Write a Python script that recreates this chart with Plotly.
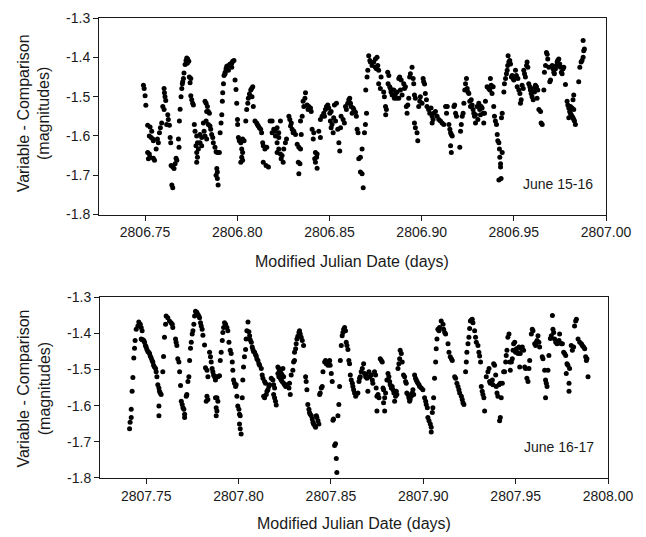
import plotly.graph_objects as go

# Differential photometry (variable minus comparison star), two nights.
# Times are stored as the fractional part of the Modified Julian Date.
MJD_NIGHT1 = 2806.0
MJD_NIGHT2 = 2807.0

night1_frac = [
    .7491, .7495, .7500, .7504, .7514, .7527, .7536, .7523, .7533, .7542,
    .7545, .7514, .7523, .7527, .7518, .7545, .7551, .7560, .7567, .7572,
    .7578, .7583, .7590, .7603, .7605, .7608, .7612, .7596, .7603, .7623,
    .7626, .7632, .7617, .7636, .7639, .7641, .7650, .7657, .7645, .7650,
    .7668, .7672, .7663, .7681, .7684, .7686, .7690, .7695, .7699, .7702,
    .7704, .7708, .7711, .7717, .7722, .7726, .7731, .7737, .7729, .7740,
    .7744, .7748, .7748, .7753, .7758, .7762, .7767, .7771, .7780, .7784,
    .7776, .7789, .7780, .7784, .7780, .7798, .7807, .7798, .7807, .7825,
    .7831, .7838, .7834, .7843, .7849, .7816, .7831, .7843, .7852, .7820,
    .7825, .7834, .7856, .7861, .7867, .7870, .7879, .7885, .7892, .7903,
    .7889, .7892, .7885, .7892, .7896, .7907, .7912, .7916, .7919, .7921,
    .7925, .7928, .7934, .7939, .7943, .7952, .7961, .7970, .7975, .7982,
    .7970, .7952, .7934, .7988, .7993, .7997, .8001, .8002, .8006, .8011,
    .8019, .8029, .8037, .8024, .8029, .8024, .8029, .8019, .8046, .8051,
    .8057, .8060, .8066, .8073, .8078, .8084, .8080, .8087, .8096, .8105,
    .8109, .8114, .8120, .8127, .8132, .8138, .8141, .8150, .8160, .8141,
    .8156, .8169, .8178, .8189, .8198, .8189, .8207, .8216, .8225, .8207,
    .8216, .8225, .8234, .8225, .8216, .8234, .8243, .8252, .8249, .8238,
    .8261, .8267, .8280, .8285, .8289, .8298, .8303, .8293, .8307, .8316,
    .8325, .8334, .8343, .8331, .8340, .8334, .8347, .8343, .8352, .8361,
    .8357, .8367, .8370, .8379, .8388, .8397, .8401, .8384, .8406, .8415,
    .8412, .8424, .8433, .8430, .8420, .8424, .8433, .8442, .8451, .8451,
    .8460, .8469, .8473, .8478, .8484, .8491, .8496, .8502, .8509, .8505,
    .8514, .8509, .8520, .8523, .8533, .8527, .8538, .8551, .8556, .8545,
    .8560, .8563, .8574, .8581, .8587, .8592, .8599, .8605, .8610, .8614,
    .8617, .8623, .8628, .8632, .8641, .8646, .8650, .8655, .8659, .8668,
    .8677, .8668, .8677, .8683, .8690, .8695, .8701, .8697, .8704, .8708,
    .8713, .8719, .8722, .8731, .8740, .8749, .8755, .8762, .8758, .8749,
    .8767, .8767, .8780, .8776, .8794, .8798, .8804, .8809, .8805, .8816,
    .8822, .8818, .8827, .8831, .8834, .8840, .8849, .8852, .8858, .8863,
    .8867, .8876, .8876, .8881, .8889, .8885, .8894, .8903, .8907, .8912,
    .8917, .8921, .8925, .8930, .8935, .8939, .8948, .8954, .8957, .8961,
    .8966, .8961, .8966, .8975, .8979, .8984, .8990, .8993, .9002, .9008,
    .9011, .9016, .9020, .9026, .9029, .9038, .9044, .9051, .9057, .9066,
    .9075, .9062, .9057, .9084, .9093, .9102, .9111, .9120, .9130, .9139,
    .9135, .9148, .9153, .9157, .9161, .9166, .9157, .9161, .9175, .9179,
    .9184, .9189, .9207, .9211, .9215, .9220, .9225, .9229, .9234, .9238,
    .9243, .9247, .9251, .9256, .9261, .9265, .9269, .9274, .9279, .9283,
    .9287, .9292, .9292, .9301, .9305, .9310, .9315, .9319, .9323, .9328,
    .9334, .9337, .9341, .9346, .9355, .9364, .9370, .9373, .9377, .9382,
    .9388, .9391, .9395, .9400, .9406, .9410, .9413, .9419, .9422, .9424,
    .9428, .9431, .9419, .9428, .9437, .9433, .9437, .9446, .9449, .9455,
    .9460, .9464, .9467, .9473, .9469, .9478, .9482, .9487, .9491, .9496,
    .9500, .9509, .9514, .9522, .9518, .9527, .9533, .9536, .9540, .9545,
    .9551, .9554, .9558, .9563, .9569, .9572, .9576, .9581, .9587, .9590,
    .9594, .9599, .9605, .9608, .9612, .9617, .9623, .9626, .9630, .9636,
    .9645, .9648, .9654, .9663, .9666, .9672, .9677, .9681, .9684, .9690,
    .9695, .9699, .9708, .9713, .9717, .9720, .9726, .9731, .9735, .9738,
    .9744, .9749, .9753, .9758, .9762, .9767, .9771, .9780, .9789, .9793,
    .9798, .9803, .9807, .9811, .9816, .9821, .9825, .9829, .9834, .9807,
    .9816, .9798, .9825, .9825, .9821, .9852, .9858, .9865, .9870, .9876,
    .9879, .9883, .9876,
]
night1_mag = [
    -1.471, -1.479, -1.498, -1.522, -1.573, -1.577, -1.588, -1.600, -1.604, -1.608,
    -1.612, -1.642, -1.646, -1.654, -1.658, -1.657, -1.662, -1.633, -1.608, -1.617,
    -1.592, -1.579, -1.567, -1.479, -1.490, -1.500, -1.510, -1.525, -1.533, -1.546,
    -1.558, -1.573, -1.571, -1.604, -1.617, -1.675, -1.679, -1.683, -1.725, -1.732,
    -1.657, -1.662, -1.671, -1.608, -1.629, -1.562, -1.532, -1.500, -1.479, -1.467,
    -1.462, -1.454, -1.440, -1.418, -1.408, -1.402, -1.404, -1.410, -1.415, -1.450,
    -1.465, -1.454, -1.498, -1.508, -1.517, -1.521, -1.571, -1.588, -1.600, -1.617,
    -1.625, -1.633, -1.642, -1.654, -1.667, -1.596, -1.604, -1.617, -1.625, -1.512,
    -1.517, -1.525, -1.538, -1.538, -1.542, -1.567, -1.562, -1.571, -1.575, -1.588,
    -1.600, -1.608, -1.583, -1.596, -1.604, -1.617, -1.629, -1.640, -1.642, -1.642,
    -1.683, -1.692, -1.700, -1.708, -1.725, -1.592, -1.567, -1.546, -1.512, -1.490,
    -1.467, -1.446, -1.438, -1.429, -1.423, -1.421, -1.417, -1.415, -1.410, -1.408,
    -1.425, -1.433, -1.442, -1.458, -1.482, -1.517, -1.558, -1.571, -1.604, -1.612,
    -1.617, -1.608, -1.612, -1.633, -1.642, -1.654, -1.662, -1.667, -1.562, -1.533,
    -1.517, -1.504, -1.493, -1.483, -1.479, -1.475, -1.500, -1.525, -1.562, -1.567,
    -1.571, -1.575, -1.579, -1.583, -1.592, -1.617, -1.625, -1.633, -1.629, -1.667,
    -1.675, -1.679, -1.562, -1.562, -1.583, -1.592, -1.588, -1.579, -1.592, -1.600,
    -1.617, -1.604, -1.562, -1.633, -1.642, -1.646, -1.650, -1.633, -1.667, -1.658,
    -1.617, -1.608, -1.550, -1.558, -1.575, -1.583, -1.592, -1.567, -1.588, -1.596,
    -1.621, -1.629, -1.633, -1.667, -1.671, -1.696, -1.596, -1.562, -1.550, -1.525,
    -1.512, -1.504, -1.490, -1.521, -1.525, -1.529, -1.538, -1.533, -1.583, -1.592,
    -1.608, -1.642, -1.646, -1.654, -1.658, -1.667, -1.682, -1.588, -1.604, -1.558,
    -1.550, -1.542, -1.550, -1.533, -1.525, -1.521, -1.529, -1.542, -1.538, -1.562,
    -1.571, -1.579, -1.592, -1.554, -1.562, -1.521, -1.517, -1.617, -1.638, -1.583,
    -1.579, -1.550, -1.558, -1.567, -1.525, -1.533, -1.517, -1.508, -1.504, -1.517,
    -1.525, -1.542, -1.529, -1.533, -1.540, -1.550, -1.583, -1.592, -1.658, -1.654,
    -1.633, -1.692, -1.696, -1.732, -1.592, -1.571, -1.542, -1.483, -1.450, -1.433,
    -1.396, -1.408, -1.412, -1.421, -1.412, -1.425, -1.429, -1.421, -1.400, -1.404,
    -1.433, -1.467, -1.450, -1.479, -1.488, -1.500, -1.525, -1.533, -1.546, -1.438,
    -1.446, -1.467, -1.475, -1.479, -1.488, -1.496, -1.483, -1.504, -1.493, -1.504,
    -1.488, -1.504, -1.454, -1.450, -1.458, -1.483, -1.496, -1.467, -1.479, -1.475,
    -1.525, -1.542, -1.521, -1.504, -1.450, -1.442, -1.425, -1.454, -1.467, -1.496,
    -1.504, -1.567, -1.579, -1.592, -1.612, -1.525, -1.512, -1.500, -1.517, -1.454,
    -1.462, -1.468, -1.492, -1.508, -1.525, -1.533, -1.542, -1.529, -1.550, -1.542,
    -1.538, -1.558, -1.567, -1.550, -1.558, -1.562, -1.567, -1.571, -1.525, -1.525,
    -1.542, -1.571, -1.583, -1.592, -1.596, -1.600, -1.625, -1.642, -1.525, -1.521,
    -1.542, -1.550, -1.629, -1.588, -1.571, -1.550, -1.542, -1.517, -1.483, -1.467,
    -1.454, -1.479, -1.488, -1.492, -1.512, -1.525, -1.508, -1.521, -1.533, -1.542,
    -1.550, -1.567, -1.546, -1.525, -1.558, -1.517, -1.533, -1.546, -1.525, -1.529,
    -1.542, -1.567, -1.542, -1.512, -1.475, -1.479, -1.483, -1.454, -1.471, -1.492,
    -1.475, -1.525, -1.550, -1.562, -1.571, -1.596, -1.612, -1.617, -1.633, -1.654,
    -1.671, -1.708, -1.712, -1.679, -1.642, -1.554, -1.542, -1.488, -1.467, -1.454,
    -1.442, -1.433, -1.421, -1.412, -1.396, -1.408, -1.417, -1.450, -1.446, -1.454,
    -1.458, -1.433, -1.446, -1.454, -1.475, -1.483, -1.492, -1.517, -1.508, -1.471,
    -1.479, -1.433, -1.442, -1.450, -1.421, -1.412, -1.425, -1.467, -1.475, -1.483,
    -1.492, -1.500, -1.508, -1.479, -1.488, -1.471, -1.475, -1.504, -1.483, -1.533,
    -1.538, -1.567, -1.571, -1.483, -1.438, -1.421, -1.388, -1.392, -1.404, -1.425,
    -1.462, -1.458, -1.421, -1.429, -1.438, -1.442, -1.429, -1.421, -1.412, -1.408,
    -1.404, -1.417, -1.425, -1.438, -1.442, -1.429, -1.425, -1.469, -1.512, -1.521,
    -1.529, -1.538, -1.542, -1.546, -1.550, -1.554, -1.558, -1.562, -1.571, -1.525,
    -1.529, -1.554, -1.533, -1.496, -1.508, -1.462, -1.425, -1.412, -1.408, -1.400,
    -1.383, -1.379, -1.357,
]

night2_frac = [
    .7410, .7413, .7419, .7419, .7424, .7428, .7433, .7437, .7440, .7446,
    .7455, .7460, .7468, .7473, .7478, .7473, .7478, .7482, .7487, .7491,
    .7496, .7500, .7504, .7509, .7514, .7518, .7522, .7527, .7532, .7536,
    .7540, .7545, .7551, .7554, .7558, .7563, .7569, .7572, .7576, .7581,
    .7569, .7569, .7590, .7594, .7599, .7605, .7608, .7617, .7626, .7635,
    .7641, .7644, .7659, .7662, .7666, .7671, .7677, .7681, .7686, .7690,
    .7695, .7699, .7704, .7708, .7708, .7717, .7720, .7726, .7731, .7735,
    .7740, .7744, .7749, .7753, .7758, .7762, .7767, .7771, .7774, .7780,
    .7785, .7789, .7794, .7798, .7803, .7807, .7816, .7821, .7829, .7834,
    .7829, .7834, .7825, .7843, .7848, .7852, .7857, .7861, .7865, .7870,
    .7875, .7879, .7888, .7897, .7875, .7883, .7888, .7879, .7883, .7879,
    .7901, .7906, .7912, .7915, .7919, .7924, .7930, .7937, .7942, .7948,
    .7955, .7960, .7966, .7969, .7973, .7978, .7984, .7987, .7991, .7996,
    .8002, .8005, .8009, .8005, .8009, .8014, .8020, .8023, .8027, .8032,
    .8038, .8041, .8045, .8051, .8056, .8060, .8063, .8069, .8074, .8078,
    .8081, .8087, .8092, .8096, .8099, .8105, .8110, .8114, .8123, .8128,
    .8132, .8141, .8146, .8136, .8141, .8150, .8154, .8159, .8164, .8168,
    .8177, .8186, .8190, .8195, .8190, .8195, .8200, .8204, .8213, .8218,
    .8222, .8226, .8231, .8236, .8240, .8244, .8213, .8218, .8226, .8231,
    .8236, .8244, .8249, .8255, .8262, .8273, .8280, .8276, .8285, .8294,
    .8298, .8303, .8303, .8309, .8312, .8316, .8321, .8327, .8330, .8334,
    .8339, .8345, .8352, .8363, .8366, .8370, .8375, .8381, .8384, .8388,
    .8394, .8399, .8403, .8406, .8412, .8417, .8421, .8424, .8430, .8435,
    .8439, .8442, .8448, .8453, .8457, .8466, .8471, .8475, .8484, .8489,
    .8493, .8496, .8502, .8507, .8511, .8514, .8520, .8525, .8529, .8532,
    .8538, .8543, .8547, .8551, .8556, .8561, .8565, .8569, .8574, .8579,
    .8583, .8587, .8592, .8597, .8601, .8605, .8610, .8616, .8619, .8623,
    .8628, .8634, .8637, .8646, .8652, .8655, .8659, .8664, .8670, .8677,
    .8682, .8688, .8691, .8695, .8700, .8706, .8709, .8718, .8724, .8727,
    .8736, .8742, .8745, .8749, .8755, .8749, .8760, .8767, .8773, .8778,
    .8782, .8785, .8791, .8785, .8791, .8796, .8803, .8809, .8814, .8818,
    .8821, .8827, .8832, .8836, .8841, .8845, .8850, .8854, .8857, .8863,
    .8868, .8872, .8875, .8881, .8886, .8893, .8899, .8904, .8908, .8911,
    .8917, .8922, .8926, .8929, .8935, .8940, .8944, .8948, .8953, .8958,
    .8962, .8966, .8971, .8977, .8980, .8989, .8998, .9007, .9013, .9016,
    .9022, .9025, .9031, .9038, .9043, .9043, .9049, .9052, .9056, .9061,
    .9067, .9070, .9074, .9079, .9085, .9088, .9097, .9107, .9110, .9116,
    .9121, .9134, .9139, .9146, .9152, .9157, .9170, .9175, .9182, .9188,
    .9193, .9197, .9206, .9211, .9215, .9220, .9229, .9233, .9236, .9242,
    .9247, .9251, .9255, .9260, .9265, .9269, .9278, .9283, .9287, .9296,
    .9301, .9305, .9310, .9314, .9319, .9323, .9328, .9332, .9341, .9350,
    .9356, .9359, .9363, .9368, .9374, .9377, .9381, .9386, .9392, .9395,
    .9399, .9404, .9410, .9417, .9422, .9428, .9417, .9413, .9435, .9440,
    .9446, .9449, .9453, .9458, .9464, .9468, .9471, .9477, .9482, .9486,
    .9489, .9495, .9500, .9504, .9507, .9513, .9518, .9522, .9525, .9531,
    .9536, .9543, .9549, .9554, .9561, .9567, .9572, .9576, .9585, .9590,
    .9594, .9603, .9608, .9612, .9616, .9621, .9626, .9630, .9644, .9648,
    .9657, .9662, .9666, .9670, .9662, .9675, .9680, .9688, .9693, .9699,
    .9702, .9706, .9711, .9717, .9724, .9729, .9735, .9738, .9747, .9753,
    .9760, .9765, .9771, .9774, .9778, .9783, .9789, .9789, .9792, .9801,
    .9807, .9814, .9819, .9825, .9829, .9838, .9847, .9856, .9861, .9868,
    .9874, .9879, .9883, .9886, .9892,
]
night2_mag = [
    -1.664, -1.646, -1.633, -1.610, -1.560, -1.522, -1.468, -1.441, -1.420, -1.389,
    -1.380, -1.369, -1.375, -1.384, -1.393, -1.416, -1.418, -1.418, -1.420, -1.425,
    -1.434, -1.438, -1.445, -1.450, -1.452, -1.456, -1.463, -1.468, -1.475, -1.479,
    -1.488, -1.493, -1.497, -1.506, -1.520, -1.542, -1.551, -1.560, -1.565, -1.569,
    -1.601, -1.628, -1.506, -1.464, -1.411, -1.375, -1.352, -1.357, -1.366, -1.371,
    -1.375, -1.384, -1.416, -1.425, -1.434, -1.470, -1.479, -1.506, -1.544, -1.588,
    -1.597, -1.606, -1.610, -1.624, -1.633, -1.574, -1.569, -1.533, -1.520, -1.475,
    -1.441, -1.425, -1.402, -1.393, -1.375, -1.352, -1.339, -1.343, -1.342, -1.348,
    -1.352, -1.357, -1.371, -1.380, -1.389, -1.405, -1.432, -1.495, -1.502, -1.520,
    -1.574, -1.583, -1.588, -1.452, -1.465, -1.479, -1.497, -1.506, -1.515, -1.520,
    -1.529, -1.520, -1.520, -1.517, -1.578, -1.578, -1.588, -1.606, -1.615, -1.628,
    -1.475, -1.452, -1.420, -1.398, -1.384, -1.371, -1.375, -1.384, -1.393, -1.425,
    -1.447, -1.456, -1.479, -1.502, -1.529, -1.538, -1.547, -1.542, -1.574, -1.601,
    -1.610, -1.624, -1.628, -1.651, -1.664, -1.678, -1.578, -1.529, -1.493, -1.465,
    -1.445, -1.416, -1.393, -1.369, -1.396, -1.407, -1.418, -1.425, -1.438, -1.445,
    -1.450, -1.452, -1.459, -1.463, -1.470, -1.475, -1.484, -1.488, -1.497, -1.515,
    -1.524, -1.533, -1.538, -1.574, -1.578, -1.569, -1.560, -1.556, -1.547, -1.542,
    -1.524, -1.529, -1.542, -1.551, -1.569, -1.578, -1.588, -1.598, -1.493, -1.497,
    -1.502, -1.506, -1.511, -1.515, -1.497, -1.520, -1.511, -1.520, -1.524, -1.529,
    -1.533, -1.538, -1.542, -1.547, -1.542, -1.551, -1.569, -1.538, -1.515, -1.502,
    -1.479, -1.475, -1.452, -1.443, -1.429, -1.416, -1.408, -1.398, -1.393, -1.402,
    -1.411, -1.420, -1.434, -1.520, -1.533, -1.556, -1.597, -1.610, -1.619, -1.624,
    -1.628, -1.637, -1.646, -1.651, -1.655, -1.660, -1.628, -1.633, -1.642, -1.651,
    -1.569, -1.565, -1.551, -1.547, -1.506, -1.479, -1.475, -1.484, -1.488, -1.479,
    -1.475, -1.488, -1.511, -1.533, -1.640, -1.637, -1.710, -1.705, -1.746, -1.785,
    -1.628, -1.597, -1.547, -1.475, -1.434, -1.407, -1.398, -1.389, -1.384, -1.393,
    -1.425, -1.434, -1.445, -1.475, -1.484, -1.515, -1.529, -1.538, -1.547, -1.556,
    -1.565, -1.574, -1.569, -1.565, -1.533, -1.524, -1.520, -1.506, -1.497, -1.484,
    -1.511, -1.520, -1.515, -1.524, -1.560, -1.506, -1.520, -1.515, -1.529, -1.538,
    -1.506, -1.515, -1.551, -1.574, -1.569, -1.615, -1.578, -1.470, -1.475, -1.479,
    -1.551, -1.556, -1.578, -1.592, -1.615, -1.565, -1.529, -1.511, -1.520, -1.533,
    -1.542, -1.551, -1.547, -1.556, -1.565, -1.588, -1.574, -1.560, -1.569, -1.497,
    -1.484, -1.470, -1.447, -1.456, -1.479, -1.515, -1.520, -1.533, -1.538, -1.565,
    -1.569, -1.578, -1.588, -1.583, -1.574, -1.565, -1.556, -1.569, -1.515, -1.524,
    -1.529, -1.533, -1.538, -1.542, -1.547, -1.551, -1.556, -1.578, -1.588, -1.597,
    -1.606, -1.633, -1.642, -1.651, -1.660, -1.673, -1.619, -1.606, -1.578, -1.524,
    -1.479, -1.443, -1.416, -1.389, -1.393, -1.384, -1.366, -1.375, -1.389, -1.398,
    -1.402, -1.429, -1.452, -1.465, -1.470, -1.475, -1.520, -1.524, -1.538, -1.547,
    -1.556, -1.565, -1.574, -1.583, -1.592, -1.597, -1.506, -1.479, -1.452, -1.429,
    -1.411, -1.387, -1.366, -1.363, -1.361, -1.371, -1.393, -1.411, -1.425, -1.434,
    -1.452, -1.463, -1.479, -1.547, -1.560, -1.569, -1.578, -1.615, -1.520, -1.506,
    -1.497, -1.533, -1.538, -1.533, -1.529, -1.542, -1.484, -1.488, -1.515, -1.547,
    -1.565, -1.574, -1.542, -1.538, -1.578, -1.538, -1.633, -1.642, -1.506, -1.506,
    -1.479, -1.461, -1.447, -1.411, -1.402, -1.479, -1.502, -1.479, -1.470, -1.447,
    -1.429, -1.425, -1.452, -1.443, -1.452, -1.456, -1.438, -1.493, -1.456, -1.443,
    -1.438, -1.447, -1.493, -1.497, -1.524, -1.533, -1.497, -1.475, -1.402, -1.389,
    -1.393, -1.429, -1.434, -1.425, -1.420, -1.407, -1.425, -1.438, -1.465, -1.470,
    -1.502, -1.529, -1.538, -1.547, -1.578, -1.502, -1.461, -1.414, -1.407, -1.351,
    -1.389, -1.398, -1.416, -1.425, -1.429, -1.425, -1.420, -1.402, -1.429, -1.429,
    -1.452, -1.456, -1.461, -1.511, -1.484, -1.488, -1.538, -1.560, -1.497, -1.434,
    -1.447, -1.438, -1.380, -1.366, -1.361, -1.416, -1.425, -1.429, -1.434, -1.438,
    -1.443, -1.465, -1.475, -1.470, -1.520,
]

night1_label = "June 15-16"
night2_label = "June 16-17"
x_title = "Modified Julian Date (days)"
y_title = "Variable - Comparison<br>(magnitudes)"

night1_xticks = [2806.75, 2806.80, 2806.85, 2806.90, 2806.95, 2807.00]
night2_xticks = [2807.75, 2807.80, 2807.85, 2807.90, 2807.95, 2808.00]
mag_ticks = [-1.3, -1.4, -1.5, -1.6, -1.7, -1.8]

assert len(night1_frac) == len(night1_mag)
assert len(night2_frac) == len(night2_mag)

W, H = 646, 537
ML, MR, MT, MB = 99, 38, 10, 59
PW, PH = W - ML - MR, H - MT - MB


def px_x(px):
    return (px - ML) / PW


def px_y(py):
    return (H - MB - py) / PH


FONT = "Liberation Sans, Arial, sans-serif"
INK = "#1a1a1a"

fig = go.Figure()
fig.add_trace(go.Scatter(
    x=[MJD_NIGHT1 + f for f in night1_frac], y=night1_mag,
    mode="markers", marker=dict(size=5, color="black"),
    xaxis="x", yaxis="y", showlegend=False, hoverinfo="skip",
))
fig.add_trace(go.Scatter(
    x=[MJD_NIGHT2 + f for f in night2_frac], y=night2_mag,
    mode="markers", marker=dict(size=5, color="black"),
    xaxis="x2", yaxis="y2", showlegend=False, hoverinfo="skip",
))

axis_common = dict(
    showline=True, mirror=True, linecolor=INK, linewidth=1,
    ticks="outside", ticklen=5, tickwidth=1, tickcolor=INK,
    showgrid=False, zeroline=False,
    tickfont=dict(family=FONT, size=14, color=INK),
)

fig.update_layout(
    width=W, height=H,
    margin=dict(l=ML, r=MR, t=MT, b=MB, pad=0),
    paper_bgcolor="white", plot_bgcolor="white",
    xaxis=dict(domain=[px_x(99), px_x(606)], range=[2806.725, 2807.0],
               tickvals=night1_xticks, ticktext=[f"{v:.2f}" for v in night1_xticks],
               anchor="y", **axis_common),
    yaxis=dict(domain=[px_y(210), px_y(10)], range=[-1.8, -1.3],
               tickvals=mag_ticks, ticktext=[f"{v:.1f}" for v in mag_ticks],
               anchor="x", **axis_common),
    xaxis2=dict(domain=[px_x(100), px_x(608)], range=[2807.725, 2808.0],
                tickvals=night2_xticks, ticktext=[f"{v:.2f}" for v in night2_xticks],
                anchor="y2", **axis_common),
    yaxis2=dict(domain=[px_y(478), px_y(294)], range=[-1.8, -1.3],
                tickvals=mag_ticks, ticktext=[f"{v:.1f}" for v in mag_ticks],
                anchor="x2", **axis_common),
)

title_font = dict(family=FONT, size=16, color=INK)
annotations = [
    dict(text=x_title, x=px_x(352), y=px_y(258), xref="paper", yref="paper",
         showarrow=False, font=title_font, xanchor="center", yanchor="middle"),
    dict(text=x_title, x=px_x(354), y=px_y(524), xref="paper", yref="paper",
         showarrow=False, font=title_font, xanchor="center", yanchor="middle"),
    dict(text=y_title, x=px_x(34), y=px_y(107), xref="paper", yref="paper",
         showarrow=False, font=title_font, textangle=-90,
         xanchor="center", yanchor="middle"),
    dict(text=y_title, x=px_x(34), y=px_y(387), xref="paper", yref="paper",
         showarrow=False, font=title_font, textangle=-90,
         xanchor="center", yanchor="middle"),
    dict(text=night1_label, x=px_x(558), y=px_y(179), xref="paper", yref="paper",
         showarrow=False, font=dict(family=FONT, size=14, color=INK),
         xanchor="center", yanchor="middle"),
    dict(text=night2_label, x=px_x(559), y=px_y(446), xref="paper", yref="paper",
         showarrow=False, font=dict(family=FONT, size=14, color=INK),
         xanchor="center", yanchor="middle"),
]
fig.update_layout(annotations=annotations)

fig.write_html("out.html")
